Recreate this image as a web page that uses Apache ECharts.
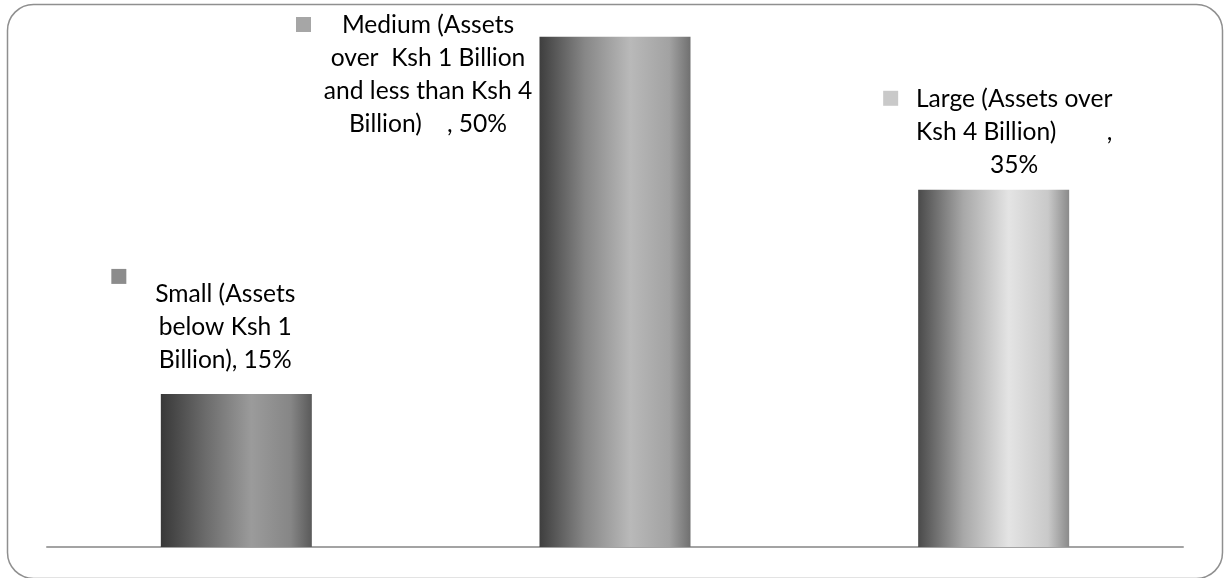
<!DOCTYPE html>
<html>
<head>
<meta charset="utf-8">
<script src="https://cdn.jsdelivr.net/npm/echarts@6/dist/echarts.min.js"></script>
<style>
html,body{margin:0;padding:0;background:#fff;}
#chart{width:1227px;height:578px;}
</style>
</head>
<body>
<div id="chart"></div>
<script>
// ---- data ----
var categories = ['Small (Assets below Ksh 1 Billion)', 'Medium (Assets over Ksh 1 Billion and less than Ksh 4 Billion)', 'Large (Assets over Ksh 4 Billion)'];
var values = [15, 50, 35];
// wrapped label text as shown in the picture; the value is appended to the last line
var labelLines = [
  ['Small (Assets', 'below Ksh 1', 'Billion), '],
  ['Medium (Assets', 'over  Ksh 1 Billion', 'and less than Ksh 4', 'Billion)    , '],
  ['Large (Assets over', 'Ksh 4 Billion)        ,', '']
];
var keyColors = ['#8c8c8c', '#a6a6a6', '#c9c9c9'];

// ---- styling ----
var gradients = [
  ['#383838', '#6c6c6c', '#9b9b9b', '#868686', '#5a5a5a'],
  ['#3e3e3e', '#878787', '#b9b9b9', '#a2a2a2', '#707070'],
  ['#4a4a4a', '#a8a8a8', '#e4e4e4', '#c9c9c9', '#8a8a8a']
];
var textOffsets = [[-11, -17.5], [-187, 103.8], [20.5, -8.5]];
var keyOffsets = [[-117.5, -110], [-311.5, -4.7], [-103, -84]];

function grad(c) {
  return new echarts.graphic.LinearGradient(0, 0, 1, 0, [
    {offset: 0, color: c[0]},
    {offset: 0.3, color: c[1]},
    {offset: 0.6, color: c[2]},
    {offset: 0.86, color: c[3]},
    {offset: 1, color: c[4]}
  ]);
}

var FONT = 'Lato';
var mainData = values.map(function (v, i) {
  return {
    value: v,
    itemStyle: {color: grad(gradients[i])},
    label: {offset: textOffsets[i]}
  };
});
var keyData = values.map(function (v, i) {
  return {
    value: v,
    label: {offset: keyOffsets[i], rich: {m: {width: 15, height: 15, lineHeight: 15, backgroundColor: keyColors[i]}}}
  };
});

var chart = echarts.init(document.getElementById('chart'), null, {renderer: 'canvas'});
chart.setOption({
  animation: false,
  backgroundColor: '#ffffff',
  graphic: [{
    type: 'rect',
    shape: {x: 7.5, y: 4.5, width: 1215, height: 574, r: 26},
    style: {fill: 'none', stroke: '#8f8f8f', lineWidth: 1.5},
    silent: true,
    z: -1
  }],
  grid: {left: 47, right: 44, top: 36.7, bottom: 31},
  xAxis: {
    type: 'category',
    data: categories,
    axisLine: {show: true, lineStyle: {color: '#a3a3a3', width: 2}},
    axisTick: {show: false},
    axisLabel: {show: false},
    splitLine: {show: false}
  },
  yAxis: {
    type: 'value',
    min: 0, max: 50,
    show: false,
    splitLine: {show: false}
  },
  series: [
    {
      type: 'bar',
      data: mainData,
      barWidth: 151,
      z: 3,
      label: {
        show: true,
        position: 'top',
        distance: 0,
        color: '#000000',
        fontFamily: FONT,
        fontSize: 24.6,
        lineHeight: 33,
        align: 'center',
        formatter: function (p) {
          var lines = labelLines[p.dataIndex].slice();
          lines[lines.length - 1] = lines[lines.length - 1] + p.value + '%';
          return lines.join('\n');
        }
      }
    },
    {
      type: 'bar',
      data: keyData,
      barWidth: 151,
      barGap: '-100%',
      silent: true,
      z: 2,
      itemStyle: {color: 'rgba(0,0,0,0)'},
      label: {
        show: true,
        position: 'top',
        distance: 0,
        formatter: '{m|}'
      }
    }
  ]
});
</script>
</body>
</html>
